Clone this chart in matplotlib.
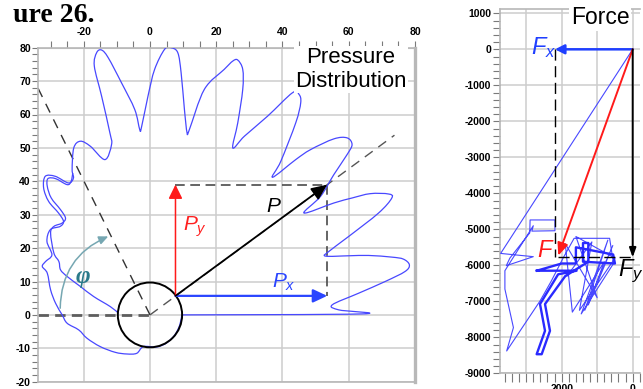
import matplotlib
matplotlib.use("Agg")
import matplotlib.pyplot as plt
from matplotlib.patches import Circle, FancyArrowPatch, PathPatch
from matplotlib.path import Path
from matplotlib.ticker import MultipleLocator

plt.rcParams['font.family'] = ['Liberation Sans', 'DejaVu Sans']
plt.rcParams['font.weight'] = 'bold'
plt.rcParams['mathtext.fontset'] = 'custom'
plt.rcParams['mathtext.it'] = 'Liberation Sans:style=italic:weight=normal'
plt.rcParams['mathtext.rm'] = 'Liberation Sans:weight=normal'
plt.rcParams['lines.scale_dashes'] = False
plt.rcParams['axes.unicode_minus'] = False

# ---------------- data: pressure distribution (polar curve, x/y) ----------------
pressure_x = [9.8, 64, 57, 55, 63, 71, 77, 78.3, 76.5, 73, 66, 60, 53, 54, 60, 69, 73, 72,
              66.5, 61, 55.5, 46.5, 51.5, 55.5, 59.5, 61, 59.5, 55.5, 48.5, 44, 37, 39.5,
              44, 45.5, 45, 43, 35.5, 28.5, 25, 26.5, 28, 28, 26.5, 25, 22.4, 16.4, 11.9,
              11.2, 10.4, 9.4, 8.4, 6.4, 4.4, 1.4, -0.6, -2.6, -3.1, -4.6, -8.6, -12.6,
              -14.6, -16.1, -16.8, -14.6, -12.1, -11.6, -13.6, -18, -21, -23, -23.5, -23.1,
              -24.6, -28.6, -31.6, -32.1, -30.6, -27.6, -26.1, -27.1, -30.1, -31.1, -29.6,
              -31.5, -32.5, -31, -30, -28.5, -26.5, -25, -21.5, -19, -15, -10.5, -7, -4,
              -2, 2, 5, 7.5, 9, 9.6]
pressure_y = [0, 0.3, 1.5, 3, 6.5, 10, 13, 15, 16.7, 17.3, 17.8, 17.7, 17.6, 19, 23.5, 30.5,
              35, 36.2, 36.3, 35, 33.5, 30.5, 35.5, 42, 48, 51, 53, 52.7, 49.5, 46.5, 41.2,
              46, 57.5, 63.5, 66, 66.5, 59.5, 53.5, 50, 57.5, 67.5, 73.5, 76.3, 76, 73.5,
              67.5, 55.5, 54.5, 61.5, 72.5, 78.5, 80, 79.5, 73.5, 65.5, 56, 55.5, 61.5,
              69.5, 77, 79.3, 78.5, 74.5, 65.5, 54.5, 51, 46.5, 50.5, 52, 50, 43.5, 41,
              39.5, 41.5, 41.5, 38, 34, 30.5, 28, 26.5, 25.5, 22, 18, 16, 14.5, 12.5, 7.5,
              3.5, 0, -2.5, -4.5, -7, -9.5, -11.2, -11.7, -11.5, -9.5, -9.6, -8.4, -6, -3, 0]
inner_x = [-9.5, -12, -17, -21, -25, -27, -27.5, -29, -30, -29, -26.5, -25.5, -27, -29.8,
           -31, -30.8, -28.5, -25, -23.8, -23.3]
inner_y = [0.5, 2.5, 5.5, 8.5, 11.5, 13.5, 16, 18.5, 24.5, 26.5, 27.5, 29, 31.5, 35, 38.5,
           40.8, 40.8, 39, 40, 42.5]

# resultant pressure P and its components
p_origin = (7.7, 5.7)
p_x, p_y = 53.5, 39.0
journal_radius = 9.7
phi_angle_dir = (-34.0, 68.3)     # dashed line of angle phi
p_line_dir = (73.8, 53.8)         # dashed line along P

# ---------------- data: force trajectory ----------------
force_thin_x = [0, 3720, 2800, 3560, 3460, 2900, 2890, 2190, 2190, 2840, 2800, 3600, 3600,
                3360, 3550, 2610, 2300, 1950, 1650, 650, 540, 1450, 700, 1350, 560, 1250,
                800, 1700, 1900, 1000, 1600, 500, 1500, 1150, 1850]
force_thin_y = [0, -5670, -5760, -6010, -5800, -5100, -4740, -4740, -5040, -5050, -4900,
                -6150, -6660, -7730, -8380, -6990, -6450, -5780, -5250, -5250, -5950, -7350,
                -5300, -7250, -5450, -7100, -5900, -7300, -5400, -6900, -5200, -5800, -7250,
                -5350, -6300]
force_thick_x = [2700, 1580, 2100, 2611, 2470, 2705, 2564, 2330, 2470, 1900, 1250, 1250,
                 1400, 1400, 500, 550, 1600, 1600, 2000, 2700]
force_thick_y = [-6150, -6150, -6250, -7077, -7820, -8470, -8470, -7820, -7077, -6300,
                 -5900, -5380, -5380, -5900, -5950, -5700, -5500, -5950, -5950, -6150]
f_x, f_y = 2190, -5780       # Fx component end, Fy component end
f_res = (2096, -5730)        # resultant F tip

W, H = 643, 389
fig = plt.figure(figsize=(W / 100, H / 100), dpi=100)


def box(x0, y0, x1, y1):
    return [x0 / W, 1 - y1 / H, (x1 - x0) / W, (y1 - y0) / H]


GRID = '#cdcdcd'
SPINE = '#b8b8b8'
TICK = '#7a7a7a'
BLUE = '#4848ff'


def arrow(ax, start, end, color, lw, hl, hw, ms=10, z=6):
    ax.annotate('', xy=end, xytext=start, zorder=z,
                arrowprops=dict(arrowstyle=f'-|>,head_length={hl},head_width={hw}',
                                color=color, lw=lw, shrinkA=0, shrinkB=0,
                                mutation_scale=ms))


def smooth_curve(ax, xs, ys, **kw):
    """Draw the traced points as a smooth Catmull-Rom (cubic Bezier) path."""
    pts = list(zip(xs, ys))
    n = len(pts)
    verts = [pts[0]]
    codes = [Path.MOVETO]
    for i in range(n - 1):
        p0 = pts[max(i - 1, 0)]
        p1 = pts[i]
        p2 = pts[i + 1]
        p3 = pts[min(i + 2, n - 1)]
        c1 = (p1[0] + (p2[0] - p0[0]) / 6, p1[1] + (p2[1] - p0[1]) / 6)
        c2 = (p2[0] - (p3[0] - p1[0]) / 6, p2[1] - (p3[1] - p1[1]) / 6)
        verts += [c1, c2, p2]
        codes += [Path.CURVE4] * 3
    ax.add_patch(PathPatch(Path(verts, codes), fill=False, **kw))


# ======================= left: pressure distribution =======================
ax = fig.add_axes(box(38, 47.7, 415, 381.7))
ax.set_xlim(-33.8, 80)
ax.set_ylim(-20, 80)
ax.set_axisbelow(True)
ax.xaxis.set_major_locator(MultipleLocator(20))
ax.yaxis.set_major_locator(MultipleLocator(10))
ax.yaxis.set_minor_locator(MultipleLocator(2))
ax.grid(True, which='major', color=GRID, lw=1.1)
for s in ax.spines.values():
    s.set_color(SPINE)
    s.set_linewidth(1.2)
ax.spines['right'].set_linewidth(2.4)
ax.tick_params(axis='x', which='both', bottom=False, top=False, labelbottom=True,
               labeltop=False, labelsize=7.5, pad=2.5)
ax.tick_params(axis='y', which='both', left=True, right=False, direction='out', length=4,
               width=0.8, color=TICK, labelsize=7.5, pad=1.2)

sec = ax.secondary_xaxis('top')
sec.xaxis.set_major_locator(MultipleLocator(20))
sec.xaxis.set_minor_locator(MultipleLocator(5))
sec.tick_params(which='both', direction='out', length=5, width=0.8, color=TICK,
                labelsize=7.5, pad=2.5)
sec.spines['top'].set_color(SPINE)

# pressure curve
smooth_curve(ax, pressure_x, pressure_y, ec=BLUE, lw=0.9, zorder=3)
smooth_curve(ax, inner_x, inner_y, ec=BLUE, lw=0.9, zorder=3)

# reference dashed lines
ax.plot([ax.get_xlim()[0], 0], [0, 0], color='#5e5e5e', lw=2.0, dashes=[7.5, 4.5], zorder=2.5)
ax.plot([0, phi_angle_dir[0]], [0, phi_angle_dir[1]], color='#333333', lw=1.0,
        dashes=[7, 5.5], zorder=2.5)
ax.plot([0, p_line_dir[0]], [0, p_line_dir[1]], color='#555555', lw=1.0,
        dashes=[7, 5], zorder=2.5)
ax.plot([p_origin[0], p_x], [p_y, p_y], color='#4a4a4a', lw=1.2, dashes=[7, 4], zorder=2.6)
ax.plot([p_x, p_x], [p_y, p_origin[1]], color='#4a4a4a', lw=1.2, dashes=[7, 4], zorder=2.6)

# journal circle
ax.add_patch(Circle((0, 0), journal_radius, fill=False, ec='black', lw=1.4, zorder=5))

# P vectors
arrow(ax, p_origin, (p_x, p_origin[1]), '#2a45ff', 1.6, 0.85, 0.4)
arrow(ax, p_origin, (p_origin[0], p_y), '#ff1a1a', 1.1, 0.85, 0.42)
arrow(ax, p_origin, (p_x, p_y), 'black', 1.3, 0.95, 0.42)

ax.text(37.5, 32.4, '$P$', color='black', fontsize=15, weight='normal',
        ha='center', va='center', zorder=7)
ax.text(13.5, 26.5, '$P_y$', color='#ff2020', fontsize=15, weight='normal',
        ha='center', va='center', zorder=7)
ax.text(40.5, 9.8, '$P_x$', color='#2a45ff', fontsize=15, weight='normal',
        ha='center', va='center', zorder=7)

# phi arc
arc = FancyArrowPatch(posA=(-27.1, 2.0), posB=(-12.6, 23.5), connectionstyle='arc3,rad=-0.32',
                      arrowstyle='-|>,head_length=0.55,head_width=0.25', mutation_scale=10,
                      color='#76a7b2', lw=1.1, shrinkA=0, shrinkB=0, zorder=6)
ax.add_patch(arc)
ax.text(-20.3, 11.5, 'φ', family='Liberation Serif', style='italic', weight='bold',
        fontsize=18, color='#2b7a8a', ha='center', va='center', zorder=7)

ax.text(0.83, 0.935, 'Pressure\nDistribution', transform=ax.transAxes, fontsize=16,
        weight='normal', ha='center', va='center', linespacing=1.15, zorder=8,
        bbox=dict(facecolor='white', edgecolor='none', pad=1.0))

# ======================= right: force =======================
ax2 = fig.add_axes(box(500, 9, 640, 373.3))
ax2.set_xlim(3738, -206)
ax2.set_ylim(-9000, 1120)
ax2.set_axisbelow(True)
ax2.xaxis.set_major_locator(MultipleLocator(1000))
ax2.xaxis.set_minor_locator(MultipleLocator(200))
ax2.yaxis.set_major_locator(MultipleLocator(1000))
ax2.yaxis.set_minor_locator(MultipleLocator(200))
ax2.xaxis.set_major_formatter(plt.FuncFormatter(lambda v, p: f'{v:.0f}' if round(v) % 2000 == 0 else ''))
ax2.grid(True, which='major', color=GRID, lw=1.1)
for s in ax2.spines.values():
    s.set_color(SPINE)
    s.set_linewidth(1.2)
ax2.spines['right'].set_visible(False)
ax2.tick_params(which='both', direction='out', length=5, width=0.8, color=TICK,
                labelsize=7.5, pad=1.2, top=False, right=False)
ax2.tick_params(axis='x', which='both', length=6.5, pad=1.5)

ax2.plot(force_thin_x, force_thin_y, color=BLUE, lw=0.8, zorder=3)
ax2.plot(force_thick_x, force_thick_y, color='#2a2aff', lw=1.7, zorder=3)

ax2.plot([f_x, f_x], [0, f_y], color='black', lw=1.0, dashes=[8, 4], zorder=4)
ax2.plot([f_res[0], 0], [f_y, f_y], color='black', lw=1.0, dashes=[8, 3], zorder=4)
arrow(ax2, (0, 0), (f_x, 0), '#1f3fff', 1.8, 0.55, 0.28)
arrow(ax2, (0, 0), f_res, '#ff1a1a', 1.4, 0.75, 0.32)
arrow(ax2, (0, 0), (0, f_y), 'black', 1.4, 0.55, 0.2)

ax2.text(2520, 40, '$F_x$', color='#1f3fff', fontsize=17, weight='normal',
         ha='center', va='center', zorder=7)
ax2.text(2440, -5590, '$F$', color='#ff1a1a', fontsize=17, weight='normal',
         ha='center', va='center', zorder=7)
ax2.text(414, -6175, '$F_y$', color='black', fontsize=17, weight='normal', ha='left',
         va='center', zorder=7, clip_on=False)
ax2.text(600 / W, 1 - 18 / H, 'Force', transform=fig.transFigure, fontsize=16.5,
         weight='normal', ha='center', va='center', zorder=8,
         bbox=dict(facecolor='white', edgecolor='none', pad=1.0))

# ---------------- document caption fragment ----------------
fig.text(13 / W, 1 - 21.5 / H, 'ure 26.', family='Liberation Serif', weight='bold',
         fontsize=20, ha='left', va='baseline')

fig.savefig('out.png', dpi=100)
